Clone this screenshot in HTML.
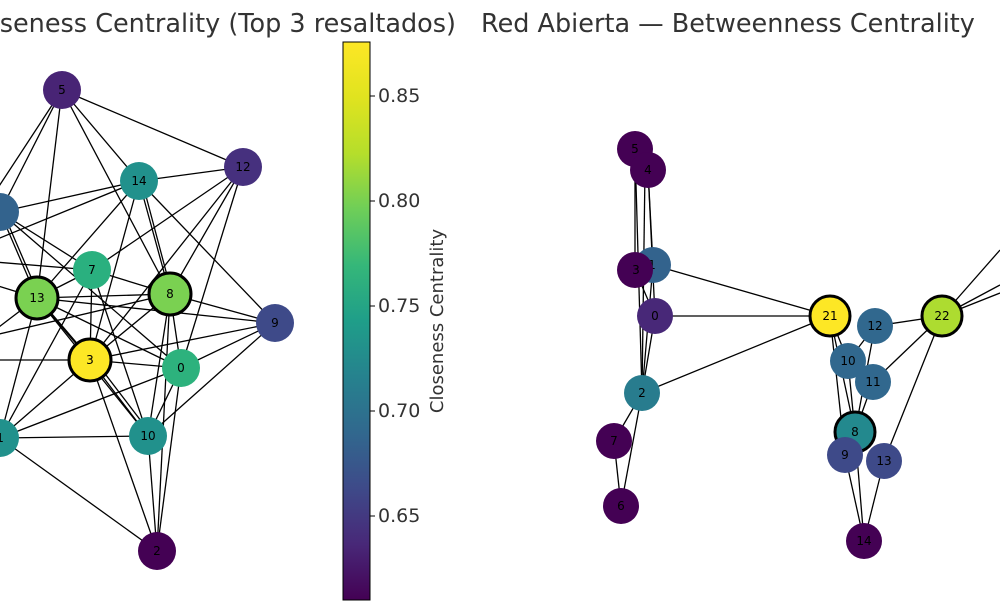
<!DOCTYPE html>
<html><head><style>
html,body{margin:0;padding:0;background:#fff;}
svg{display:block;font-family:"DejaVu Sans","Liberation Sans",sans-serif;}
</style></head><body>
<svg width="1000" height="613" viewBox="0 0 1000 613" xmlns="http://www.w3.org/2000/svg">
<defs>
<linearGradient id="vir" x1="0" y1="1" x2="0" y2="0">
<stop offset="0" stop-color="#440154"/><stop offset="0.1" stop-color="#482878"/>
<stop offset="0.2" stop-color="#3e4a89"/><stop offset="0.3" stop-color="#31688e"/>
<stop offset="0.4" stop-color="#26828e"/><stop offset="0.5" stop-color="#1f9e89"/>
<stop offset="0.6" stop-color="#35b779"/><stop offset="0.7" stop-color="#6ece58"/>
<stop offset="0.8" stop-color="#b5de2b"/><stop offset="0.9" stop-color="#e0e31f"/>
<stop offset="1" stop-color="#fde725"/>
</linearGradient>
</defs>
<text x="456" y="32" font-size="25.5" fill="#333" text-anchor="end">Red Abierta — Closeness Centrality (Top 3 resaltados)</text>
<text x="481" y="32" font-size="25.5" fill="#333">Red Abierta — Betweenness Centrality</text>

<g stroke="#000" stroke-width="1.3">
<line x1="62" y1="90" x2="0" y2="212"/><line x1="62" y1="90" x2="-10" y2="200"/>
<line x1="62" y1="90" x2="37" y2="298"/><line x1="62" y1="90" x2="139" y2="181"/>
<line x1="62" y1="90" x2="170" y2="294"/><line x1="62" y1="90" x2="243" y2="167"/>
<line x1="243" y1="167" x2="139" y2="181"/><line x1="243" y1="167" x2="92" y2="270"/>
<line x1="243" y1="167" x2="170" y2="294"/><line x1="243" y1="167" x2="90" y2="360"/>
<line x1="243" y1="167" x2="181" y2="368"/>
<line x1="139" y1="181" x2="0" y2="212"/><line x1="139" y1="181" x2="-5" y2="240"/>
<line x1="139" y1="181" x2="37" y2="298"/><line x1="139" y1="181" x2="90" y2="360"/>
<line x1="139" y1="181" x2="170" y2="294"/><line x1="142" y1="181" x2="172" y2="294"/>
<line x1="139" y1="181" x2="275" y2="323"/>
<line x1="0" y1="212" x2="37" y2="298"/><line x1="3" y1="212" x2="40" y2="298"/>
<line x1="0" y1="212" x2="92" y2="270"/><line x1="0" y1="212" x2="181" y2="368"/>
<line x1="92" y1="270" x2="37" y2="298"/><line x1="92" y1="270" x2="170" y2="294"/>
<line x1="92" y1="270" x2="90" y2="360"/><line x1="92" y1="270" x2="148" y2="436"/>
<line x1="92" y1="270" x2="0" y2="438"/><line x1="92" y1="270" x2="-5" y2="262"/>
<line x1="37" y1="298" x2="170" y2="294"/><line x1="37" y1="298" x2="275" y2="323"/>
<line x1="37" y1="298" x2="90" y2="360"/><line x1="40" y1="300" x2="93" y2="362"/>
<line x1="37" y1="298" x2="181" y2="368"/><line x1="37" y1="298" x2="148" y2="436"/>
<line x1="37" y1="298" x2="0" y2="438"/><line x1="37" y1="298" x2="-5" y2="330"/>
<line x1="37" y1="298" x2="-5" y2="285"/>
<line x1="170" y1="294" x2="90" y2="360"/><line x1="170" y1="294" x2="275" y2="323"/>
<line x1="170" y1="294" x2="181" y2="368"/><line x1="170" y1="294" x2="148" y2="436"/>
<line x1="170" y1="294" x2="157" y2="551"/><line x1="170" y1="294" x2="-5" y2="335"/>
<line x1="90" y1="360" x2="275" y2="323"/><line x1="90" y1="360" x2="181" y2="368"/>
<line x1="90" y1="360" x2="148" y2="436"/><line x1="93" y1="358" x2="151" y2="434"/>
<line x1="90" y1="360" x2="157" y2="551"/><line x1="90" y1="360" x2="0" y2="438"/>
<line x1="90" y1="360" x2="-5" y2="360"/>
<line x1="181" y1="368" x2="275" y2="323"/><line x1="181" y1="368" x2="0" y2="438"/>
<line x1="181" y1="368" x2="148" y2="436"/><line x1="181" y1="368" x2="157" y2="551"/>
<line x1="275" y1="323" x2="148" y2="436"/>
<line x1="0" y1="438" x2="148" y2="436"/><line x1="0" y1="438" x2="157" y2="551"/>
<line x1="148" y1="436" x2="157" y2="551"/>
<line x1="635" y1="149" x2="635" y2="270"/><line x1="635" y1="149" x2="642" y2="393"/>
<line x1="648" y1="170" x2="653" y2="265"/><line x1="648" y1="170" x2="655" y2="316"/>
<line x1="645" y1="170" x2="642" y2="393"/>
<line x1="653" y1="265" x2="830" y2="316"/><line x1="653" y1="265" x2="642" y2="393"/>
<line x1="635" y1="270" x2="655" y2="316"/>
<line x1="655" y1="316" x2="830" y2="316"/><line x1="655" y1="316" x2="642" y2="393"/>
<line x1="642" y1="393" x2="830" y2="316"/><line x1="642" y1="393" x2="614" y2="441"/>
<line x1="642" y1="393" x2="621" y2="506"/><line x1="614" y1="441" x2="621" y2="506"/>
<line x1="830" y1="316" x2="848" y2="361"/><line x1="830" y1="316" x2="855" y2="432"/>
<line x1="830" y1="316" x2="845" y2="455"/>
<line x1="875" y1="326" x2="942" y2="316"/><line x1="875" y1="326" x2="848" y2="361"/>
<line x1="875" y1="326" x2="855" y2="432"/><line x1="873" y1="382" x2="942" y2="316"/>
<line x1="873" y1="382" x2="855" y2="432"/><line x1="848" y1="361" x2="855" y2="432"/>
<line x1="884" y1="461" x2="942" y2="316"/><line x1="884" y1="461" x2="864" y2="541"/>
<line x1="845" y1="455" x2="864" y2="541"/><line x1="855" y1="432" x2="864" y2="541"/>
<line x1="942" y1="316" x2="1000" y2="250"/><line x1="942" y1="316" x2="1000" y2="285"/>
<line x1="942" y1="316" x2="1000" y2="293"/>
</g>

<g font-size="12" text-anchor="middle" dominant-baseline="central" fill="#000">
<circle cx="0" cy="212" r="19" fill="#33638d"/>
<circle cx="0" cy="438" r="19" fill="#21918c"/><text x="0" y="438">1</text>
<circle cx="62" cy="90" r="19" fill="#482475"/><text x="62" y="90">5</text>
<circle cx="243" cy="167" r="19" fill="#46307e"/><text x="243" y="167">12</text>
<circle cx="139" cy="181" r="19" fill="#21918c"/><text x="139" y="181">14</text>
<circle cx="92" cy="270" r="19" fill="#2ab07f"/><text x="92" y="270">7</text>
<circle cx="37" cy="298" r="21" fill="#7ad151" stroke="#000" stroke-width="3"/><text x="37" y="298">13</text>
<circle cx="170" cy="294" r="21" fill="#7ad151" stroke="#000" stroke-width="3"/><text x="170" y="294">8</text>
<circle cx="275" cy="323" r="19" fill="#3e4a89"/><text x="275" y="323">9</text>
<circle cx="90" cy="360" r="21" fill="#fde725" stroke="#000" stroke-width="3"/><text x="90" y="360">3</text>
<circle cx="181" cy="368" r="19" fill="#2db27d"/><text x="181" y="368">0</text>
<circle cx="148" cy="436" r="19" fill="#21918c"/><text x="148" y="436">10</text>
<circle cx="157" cy="551" r="19" fill="#440154"/><text x="157" y="551">2</text>
<circle cx="635" cy="149" r="18" fill="#440154"/><text x="635" y="149">5</text>
<circle cx="648" cy="170" r="18" fill="#440154"/><text x="648" y="170">4</text>
<circle cx="653" cy="265" r="18" fill="#33638d"/><text x="652" y="265">1</text>
<circle cx="635" cy="270" r="18" fill="#440154"/><text x="636" y="270">3</text>
<circle cx="655" cy="316" r="18" fill="#482878"/><text x="655" y="316">0</text>
<circle cx="642" cy="393" r="18" fill="#287c8e"/><text x="642" y="393">2</text>
<circle cx="614" cy="441" r="18" fill="#440154"/><text x="614" y="441">7</text>
<circle cx="621" cy="506" r="18" fill="#440154"/><text x="621" y="506">6</text>
<circle cx="830" cy="316" r="20" fill="#fde725" stroke="#000" stroke-width="3"/><text x="830" y="316">21</text>
<circle cx="875" cy="326" r="18" fill="#31688e"/><text x="875" y="326">12</text>
<circle cx="942" cy="316" r="20" fill="#addc30" stroke="#000" stroke-width="3"/><text x="942" y="316">22</text>
<circle cx="848" cy="361" r="18" fill="#31688e"/><text x="848" y="361">10</text>
<circle cx="873" cy="382" r="18" fill="#31688e"/><text x="873" y="382">11</text>
<circle cx="855" cy="432" r="20" fill="#23898e" stroke="#000" stroke-width="3"/>
<circle cx="845" cy="455" r="18" fill="#3e4a89"/><text x="845" y="455">9</text>
<text x="855" y="432">8</text>
<circle cx="884" cy="461" r="18" fill="#3e4a89"/><text x="884" y="461">13</text>
<circle cx="864" cy="541" r="18" fill="#440154"/><text x="864" y="541">14</text>
</g>

<rect x="343" y="42" width="27" height="558" fill="url(#vir)" stroke="#000" stroke-width="1"/>
<g stroke="#000" stroke-width="1">
<line x1="370" y1="96" x2="375" y2="96"/><line x1="370" y1="201" x2="375" y2="201"/>
<line x1="370" y1="306" x2="375" y2="306"/><line x1="370" y1="411" x2="375" y2="411"/>
<line x1="370" y1="516" x2="375" y2="516"/>
</g>
<g font-size="19" fill="#333" dominant-baseline="central">
<text x="378" y="96">0.85</text><text x="378" y="201">0.80</text>
<text x="378" y="306">0.75</text><text x="378" y="411">0.70</text>
<text x="378" y="516">0.65</text>
</g>
<text transform="translate(443,321) rotate(-90)" font-size="18" fill="#333" text-anchor="middle">Closeness Centrality</text>
</svg>
</body></html>
